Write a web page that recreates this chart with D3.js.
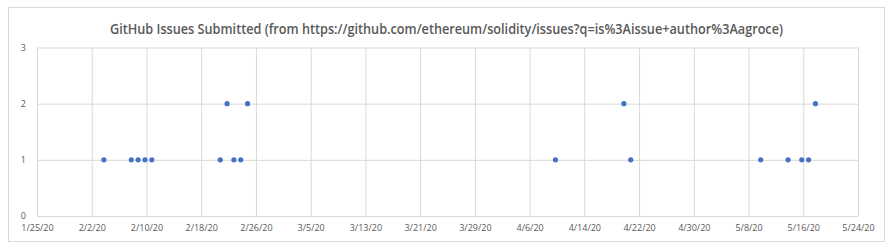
<!DOCTYPE html>
<html>
<head>
<meta charset="utf-8">
<script src="https://cdn.jsdelivr.net/npm/d3@7"></script>
<style>
    body { margin: 0; background: #fff; }
    text { font-family: "Open Sans", "Noto Sans", sans-serif; }
</style>
</head>
<body>
<script>
(function () {

    const title = 'GitHub Issues Submitted (from https://github.com/ethereum/solidity/issues?q=is%3Aissue+author%3Aagroce)';

    // dates of issues and how many were submitted that day
    const dates = ['2020-02-04', '2020-02-08', '2020-02-09', '2020-02-10', '2020-02-11',
        '2020-02-21', '2020-02-22', '2020-02-23', '2020-02-24', '2020-02-25',
        '2020-04-10', '2020-04-20', '2020-04-21',
        '2020-05-10', '2020-05-14', '2020-05-16', '2020-05-17', '2020-05-18'];
    const counts = [1, 1, 1, 1, 1,
        1, 2, 1, 1, 2,
        1, 2, 1,
        1, 1, 1, 1, 2];

    const xTicks = ['2020-01-25', '2020-02-02', '2020-02-10', '2020-02-18', '2020-02-26',
        '2020-03-05', '2020-03-13', '2020-03-21', '2020-03-29', '2020-04-06',
        '2020-04-14', '2020-04-22', '2020-04-30', '2020-05-08', '2020-05-16', '2020-05-24'];
    const yTicks = [0, 1, 2, 3];

    const W = 892, H = 249;
    const margin = {top: 47.5, bottom: 33, left: 37, right: 34};
    const width = W - margin.left - margin.right,
        height = H - margin.top - margin.bottom;

    const parse = d3.utcParse('%Y-%m-%d');
    const fmt = d3.utcFormat('%-m/%-d/%y');

    const svg = d3.select('body')
        .append('svg')
        .attr('width', W)
        .attr('height', H);

    // chart frame
    svg.append('rect')
        .attr('x', 8.5).attr('y', 7.5)
        .attr('width', 876).attr('height', 234)
        .attr('fill', '#fff')
        .attr('stroke', '#d9d9d9');

    svg.append('text')
        .attr('x', 110).attr('y', 34)
        .attr('textLength', 673)
        .attr('lengthAdjust', 'spacingAndGlyphs')
        .attr('font-size', 13.5)
        .attr('font-weight', 600)
        .attr('fill', '#595959')
        .text(title);

    const g = svg.append('g')
        .attr('transform', 'translate(' + margin.left + ', ' + margin.top + ')');

    const tickDates = xTicks.map(parse);

    const scaleX = d3.scaleUtc()
        .domain([tickDates[0], tickDates[tickDates.length - 1]])
        .range([0, width]);

    const scaleY = d3.scaleLinear()
        .domain([0, 3])
        .range([height, 0]);

    const x_axis = d3.axisBottom(scaleX)
        .tickValues(tickDates)
        .tickFormat(fmt)
        .tickSize(-height)
        .tickPadding(9);

    const y_axis = d3.axisLeft(scaleY)
        .tickValues(yTicks)
        .tickFormat(d3.format('d'))
        .tickSize(-width)
        .tickPadding(11);

    const gx = g.append('g')
        .attr('transform', 'translate(0, ' + height + ')')
        .call(x_axis);

    const gy = g.append('g')
        .call(y_axis);

    [gx, gy].forEach(function (a) {
        a.select('.domain').remove();
        a.selectAll('line').attr('stroke', '#d9d9d9');
        a.selectAll('text')
            .attr('fill', '#595959')
            .attr('font-size', 9);
    });

    g.selectAll('circle')
        .data(dates.map(function (d, i) { return {date: parse(d), n: counts[i]}; }))
        .enter()
        .append('circle')
        .attr('cx', function (d) { return scaleX(d.date) - 1.5; })
        .attr('cy', function (d) { return scaleY(d.n); })
        .attr('r', 2.6)
        .attr('fill', '#4472c4');

})();
</script>
</body>
</html>
